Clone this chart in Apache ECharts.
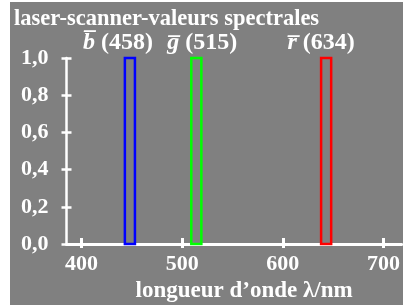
<!DOCTYPE html>
<html style="height: 100%">
<head>
    <meta charset="utf-8">
    <title>laser-scanner-valeurs spectrales</title>
    <script src="https://cdn.jsdelivr.net/npm/echarts@6/dist/echarts.min.js"></script>
</head>
<body style="height: 100%; margin: 0; background: #ffffff">
    <div id="main" style="width: 403px; height: 308px"></div>
    <script type="text/javascript">
        // donnees
        var letters = ['b', 'g', 'r'];
        var peakLabels = ['458', '515', '634'];
        var bandStart = [443, 509, 638];   // nm
        var bandEnd = [453, 519, 648];     // nm
        var bandHeight = [1.0, 1.0, 1.0];
        var xTicks = [400, 500, 600, 700];

        var colors = ['#0000ff', '#00ff00', '#ff0000'];
        var labelShift = [-12, 6, -5];
        var serif = 'Liberation Serif';

        var myChart = echarts.init(document.getElementById('main'));

        var data = [];
        for (var i = 0; i < letters.length; i++) {
            data.push([bandStart[i], bandEnd[i], bandHeight[i], i]);
        }

        var option = {
            animation: false,
            graphic: [{
                type: 'rect',
                z: -100,
                shape: { x: 10, y: 2, width: 393, height: 303 },
                style: { fill: '#808080' }
            }],
            title: {
                text: 'laser-scanner-valeurs spectrales',
                left: 9,
                top: 3,
                textStyle: {
                    color: '#ffffff',
                    fontFamily: serif,
                    fontWeight: 'bold',
                    fontSize: 22.5
                }
            },
            grid: {
                left: 66.5,
                right: 0,
                top: 58,
                bottom: 61.5
            },
            xAxis: [{
                type: 'value',
                min: 385,
                max: 718,
                splitLine: { show: false },
                axisLine: { lineStyle: { color: '#ffffff', width: 3 } },
                axisTick: {
                    customValues: xTicks,
                    length: 4,
                    lineStyle: { color: '#ffffff', width: 3 }
                },
                axisLabel: {
                    customValues: xTicks,
                    color: '#ffffff',
                    fontFamily: serif,
                    fontWeight: 'bold',
                    fontSize: 22,
                    margin: 9
                },
                name: 'longueur d\u2019onde \u03bb/nm',
                nameLocation: 'middle',
                nameGap: 33,
                nameTextStyle: {
                    color: '#ffffff',
                    fontFamily: serif,
                    fontWeight: 'bold',
                    fontSize: 23,
                    padding: [0, 0, 0, 20]
                }
            }, {
                type: 'value',
                position: 'bottom',
                min: 385,
                max: 718,
                splitLine: { show: false },
                axisLine: { show: false },
                axisTick: {
                    inside: true,
                    customValues: xTicks,
                    length: 6,
                    lineStyle: { color: '#ffffff', width: 3 }
                },
                axisLabel: { show: false }
            }],
            yAxis: [{
                type: 'value',
                min: 0,
                max: 1,
                interval: 0.2,
                splitLine: { show: false },
                axisLine: { show: true, lineStyle: { color: '#ffffff', width: 2.5 } },
                axisTick: { show: true, length: 5, lineStyle: { color: '#ffffff', width: 2.5 } },
                axisLabel: {
                    color: '#ffffff',
                    fontFamily: serif,
                    fontWeight: 'bold',
                    fontSize: 22,
                    margin: 18,
                    formatter: function (v) {
                        return v.toFixed(1).replace('.', ',');
                    }
                }
            }, {
                type: 'value',
                position: 'left',
                min: 0,
                max: 1,
                interval: 0.2,
                splitLine: { show: false },
                axisLine: { show: false },
                axisTick: { show: true, inside: true, length: 5, lineStyle: { color: '#ffffff', width: 2.5 } },
                axisLabel: { show: false }
            }],
            series: [{
                type: 'custom',
                data: data,
                encode: { x: [0, 1], y: 2 },
                renderItem: function (params, api) {
                    var k = api.value(3);
                    var p0 = api.coord([api.value(0), 0]);
                    var p1 = api.coord([api.value(1), api.value(2)]);
                    return {
                        type: 'group',
                        children: [{
                            type: 'rect',
                            shape: { x: p0[0], y: p1[1], width: p1[0] - p0[0], height: p0[1] - p1[1] },
                            style: { fill: 'none', stroke: colors[k], lineWidth: 2.5 }
                        }, {
                            type: 'text',
                            x: (p0[0] + p1[0]) / 2 + labelShift[k],
                            y: p1[1] - 3,
                            style: {
                                text: '{v|' + letters[k] + '\u0305}{n| (' + peakLabels[k] + ')}',
                                align: 'center',
                                verticalAlign: 'bottom',
                                rich: {
                                    v: { fill: '#ffffff', fontFamily: serif, fontWeight: 'bold', fontStyle: 'italic', fontSize: 24 },
                                    n: { fill: '#ffffff', fontFamily: serif, fontWeight: 'bold', fontSize: 24 }
                                }
                            }
                        }]
                    };
                }
            }]
        };

        myChart.setOption(option);
    </script>
</body>
</html>
